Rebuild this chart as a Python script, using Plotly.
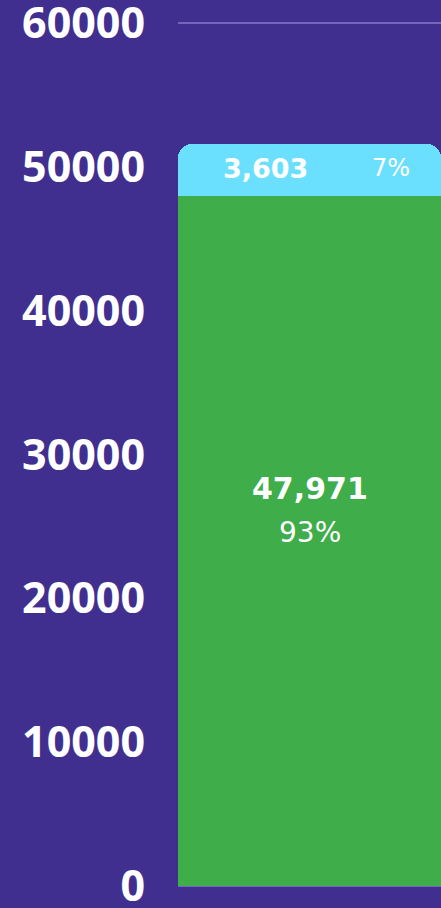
import plotly.graph_objects as go

# ---- data ----
categories = ["Total"]
series_names = ["Green", "Cyan"]
green_values = [47971]
cyan_values = [3603]
y_tick_values = [0, 10000, 20000, 30000, 40000, 50000, 60000]
y_tick_labels = ["0", "10000", "20000", "30000", "40000", "50000", "60000"]

BG = "#412F90"
GREEN = "#3EAD4A"
CYAN = "#6BDFFE"
GRID = "#7566BC"

total = green_values[0] + cyan_values[0]
green_pct = round(green_values[0] / total * 100)
cyan_pct = round(cyan_values[0] / total * 100)

fig = go.Figure()
fig.add_trace(go.Bar(x=categories, y=green_values, name=series_names[0],
                     marker=dict(color=GREEN, line=dict(width=0)), hoverinfo="skip"))
fig.add_trace(go.Bar(x=categories, y=cyan_values, name=series_names[1],
                     marker=dict(color=CYAN, line=dict(width=0)), hoverinfo="skip"))

FONT = "DejaVu Sans, sans-serif"

annotations = [
    dict(x=categories[0], y=green_values[0] / 2, xref="x", yref="y",
         text=f"{green_values[0]:,}", showarrow=False, yshift=53,
         font=dict(family=FONT, size=30, color="white", weight="bold")),
    dict(x=categories[0], y=green_values[0] / 2, xref="x", yref="y",
         text=f"{green_pct}%", showarrow=False, yshift=9,
         font=dict(family=FONT, size=28, color="white", weight="normal")),
    dict(x=categories[0], y=green_values[0] + cyan_values[0] / 2, xref="x", yref="y",
         text=f"{cyan_values[0]:,}", showarrow=False, xshift=-44, yshift=2,
         font=dict(family=FONT, size=27, color="white", weight="bold")),
    dict(x=categories[0], y=green_values[0] + cyan_values[0] / 2, xref="x", yref="y",
         text=f"{cyan_pct}%", showarrow=False, xshift=81, yshift=2,
         font=dict(family=FONT, size=24, color="white", weight="normal")),
]

fig.update_layout(
    width=441, height=908,
    barmode="stack", bargap=0, barcornerradius=14,
    paper_bgcolor=BG, plot_bgcolor=BG,
    showlegend=False,
    margin=dict(l=178, r=0, t=21, b=20, autoexpand=False),
    annotations=annotations,
    xaxis=dict(visible=False, range=[-0.5, 0.5], automargin=False),
    yaxis=dict(range=[-140, 60140], tickvals=y_tick_values, ticktext=y_tick_labels,
               showgrid=True, gridcolor=GRID, gridwidth=2, zeroline=False,
               showline=False, ticks="", ticklabelstandoff=32,
               ticklabeloverflow="allow", automargin=False,
               tickfont=dict(family="Open Sans, sans-serif", size=43, color="white", weight="bold")),
)

fig.write_html("out.html", config={"displayModeBar": False},
               post_script="document.body.style.margin='0';document.body.style.padding='0';")
